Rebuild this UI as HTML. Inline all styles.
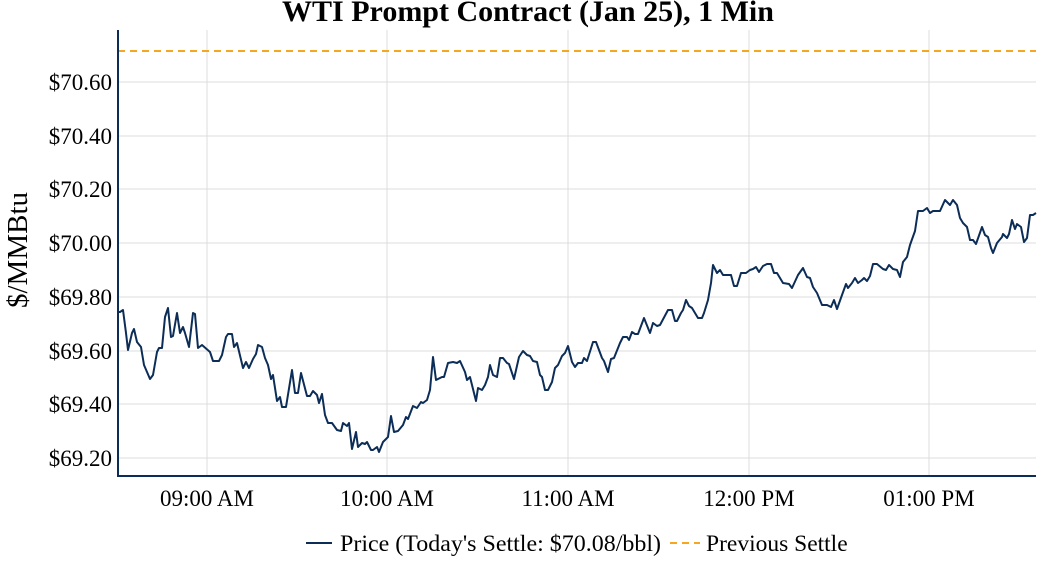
<!DOCTYPE html>
<html><head><meta charset="utf-8"><style>
html,body{margin:0;padding:0;background:#fff;}
svg{display:block;font-family:"Liberation Serif",serif;}
</style></head><body>
<svg width="1056" height="576" viewBox="0 0 1056 576" xmlns="http://www.w3.org/2000/svg">
<rect width="1056" height="576" fill="#fff"/>
<text x="528" y="21" text-anchor="middle" font-size="30" font-weight="bold" fill="#000">WTI Prompt Contract (Jan 25), 1 Min</text>
<g stroke="#dcdcdc" stroke-width="1">
<line x1="118" x2="1036" y1="458" y2="458"/><line x1="118" x2="1036" y1="404" y2="404"/>
<line x1="118" x2="1036" y1="351" y2="351"/><line x1="118" x2="1036" y1="297" y2="297"/>
<line x1="118" x2="1036" y1="243" y2="243"/><line x1="118" x2="1036" y1="189" y2="189"/>
<line x1="118" x2="1036" y1="136" y2="136"/><line x1="118" x2="1036" y1="82" y2="82"/>
<line x1="207" x2="207" y1="30" y2="476"/><line x1="387" x2="387" y1="30" y2="476"/>
<line x1="568" x2="568" y1="30" y2="476"/><line x1="749" x2="749" y1="30" y2="476"/>
<line x1="929" x2="929" y1="30" y2="476"/>
</g>
<line x1="118" x2="1036" y1="51" y2="51" stroke="#f5a623" stroke-width="2" stroke-dasharray="7,5"/>
<polyline fill="none" stroke="#0c2d57" stroke-width="2" stroke-linejoin="round" points="118,312 120,312 123,310 126,333 128,350 132,333 134,329 137,342 141,347 144,365 150,379 153,375 157,352 159,348 162,348 165,317 168,308 171,337 173,336 177,313 180,333 183,327 185,333 189,347 193,313 195,314 198,348 202,345 210,352 213,361 219,361 222,355 226,337 228,334 232,334 234,347 237,343 243,368 246,362 249,368 253,359 256,354 258,345 262,347 265,358 268,365 271,379 273,375 277,401 280,397 282,407 286,407 292,370 295,393 298,393 301,373 307,396 310,396 313,391 317,395 319,403 322,394 325,415 328,423 332,423 337,430 341,431 343,423 347,426 349,423 352,449 356,432 358,447 362,443 365,444 367,442 371,450 373,450 377,447 379,452 383,442 388,437 391,416 394,432 398,431 403,425 406,417 408,419 413,406 417,408 421,402 423,403 427,400 430,390 433,357 436,380 442,377 444,377 448,363 453,362 457,363 460,361 465,372 467,380 470,377 476,401 478,388 482,390 485,385 488,377 490,365 493,375 497,377 500,358 503,358 507,363 509,364 514,379 519,357 523,351 527,355 530,356 533,361 537,362 540,375 542,377 545,390 548,390 552,382 555,368 558,365 562,356 565,353 568,346 572,362 575,367 578,363 582,363 584,358 587,361 593,342 596,342 602,358 604,361 608,372 611,359 614,358 620,343 623,337 627,337 629,340 632,332 635,334 638,334 644,318 650,333 653,323 657,326 660,325 668,310 672,310 675,321 677,321 681,313 683,310 686,300 689,306 692,308 698,318 702,318 704,313 708,300 711,283 713,265 717,273 720,270 723,275 731,275 734,286 737,286 741,273 746,273 750,270 753,269 756,267 759,272 763,266 767,264 771,264 774,273 777,273 783,283 789,284 792,288 798,275 803,268 807,277 810,278 813,287 817,293 822,305 827,305 831,307 834,300 837,309 842,295 846,284 848,288 852,283 855,278 858,283 862,280 864,278 867,281 870,276 873,264 877,264 883,269 886,270 889,265 893,269 897,270 900,277 903,262 907,257 910,245 915,231 918,211 923,211 927,208 930,213 933,211 940,211 945,200 950,205 953,200 957,205 960,218 963,223 967,227 970,240 973,240 976,244 982,227 985,235 988,237 991,248 993,253 997,243 1002,237 1003,234 1007,238 1009,234 1012,220 1015,229 1017,224 1021,227 1024,242 1027,238 1030,215 1033,215 1036,213"/>
<line x1="118" x2="118" y1="30" y2="477" stroke="#0c2d57" stroke-width="2"/>
<line x1="117" x2="1036" y1="476" y2="476" stroke="#0c2d57" stroke-width="2"/>
<g font-size="23" fill="#000" text-anchor="end">
<text x="112" y="466">$69.20</text><text x="112" y="412">$69.40</text>
<text x="112" y="359">$69.60</text><text x="112" y="305">$69.80</text>
<text x="112" y="251">$70.00</text><text x="112" y="197">$70.20</text>
<text x="112" y="144">$70.40</text><text x="112" y="90">$70.60</text>
</g>
<text transform="translate(27,250) rotate(-90)" text-anchor="middle" font-size="29" fill="#000">$/MMBtu</text>
<g font-size="23" fill="#000" text-anchor="middle">
<text x="207" y="506">09:00 AM</text><text x="387" y="506">10:00 AM</text>
<text x="568" y="506">11:00 AM</text><text x="749" y="506">12:00 PM</text>
<text x="929" y="506">01:00 PM</text>
</g>
<line x1="306" x2="332" y1="543" y2="543" stroke="#0c2d57" stroke-width="2"/>
<text x="340" y="551" font-size="23.5" fill="#000" textLength="321" lengthAdjust="spacingAndGlyphs">Price (Today's Settle: $70.08/bbl)</text>
<line x1="670" x2="700" y1="543" y2="543" stroke="#f5a623" stroke-width="2" stroke-dasharray="7,5"/>
<text x="706" y="551" font-size="23.5" fill="#000">Previous Settle</text>
</svg>
</body></html>
